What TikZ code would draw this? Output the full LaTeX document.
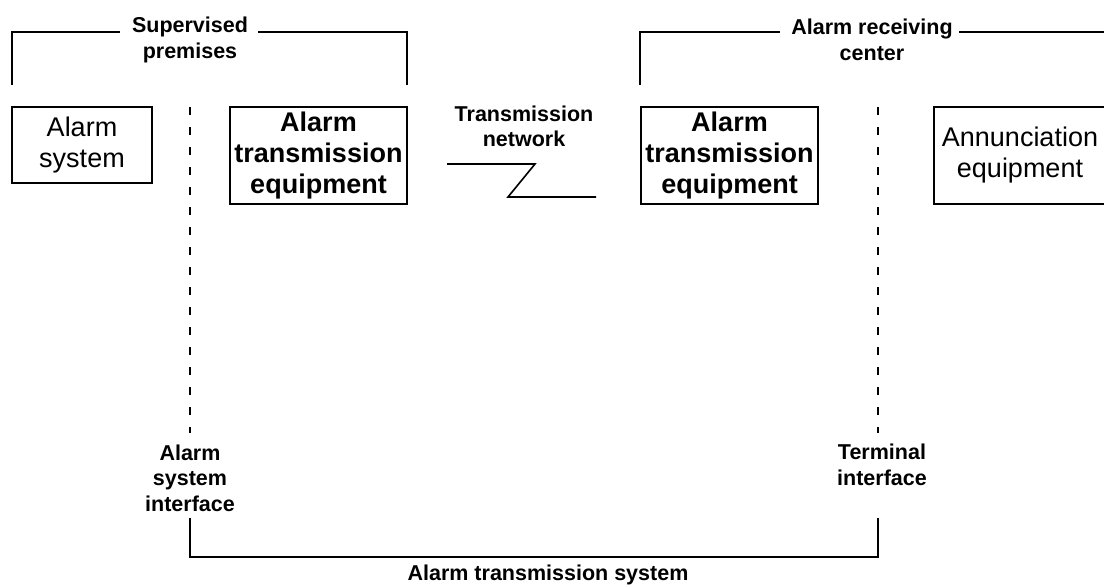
\documentclass[tikz,border=0pt]{standalone}
\usepackage{fontspec}
\setmainfont{Liberation Sans}
\usetikzlibrary{positioning}
\tikzset{
    unitbox/.style={
        rectangle,
        draw,
        line width=1.8pt,
        inner sep=0pt,
        align=center,
        font=\fontsize{27}{31}\selectfont
    },
    atebox/.style={
        unitbox,
        minimum width=177pt,
        minimum height=97pt,
        font=\fontsize{27}{31}\selectfont\bfseries
    },
    tag/.style={
        inner sep=0pt,
        align=center,
        font=\fontsize{21.5}{25.5}\selectfont\bfseries
    },
    bracket/.style={
        line width=1.6pt
    },
    interface/.style={
        line width=1.6pt,
        dash pattern=on 8pt off 12pt
    }
}

\begin{document}
\begin{tikzpicture}[x=1pt,y=-1pt]
    \useasboundingbox (0,0) rectangle (1104,586);
    \clip (0,0) rectangle (1104,586);

    % Units
    \node[unitbox, minimum width=140pt, minimum height=76pt] (alarmsys) at (82,145) {Alarm\\system};
    \node[atebox] (ateprem) at (318.5,155.5) {Alarm\\transmission\\equipment};
    \node[atebox] (atearc) at (729.5,155.5) {Alarm\\transmission\\equipment};
    \node[unitbox, minimum width=172pt, minimum height=97pt] (annunc) at (1020,155.5) {Annunciation\\equipment};

    % Supervised premises
    \node[tag] (premtag) at (190,40) {Supervised\\premises};
    \coordinate (premL) at (12,85);
    \coordinate (premLend) at (120,32);
    \coordinate (premRend) at (258,32);
    \coordinate (premR) at (407,85);
    \draw[bracket] (premL) |- (premLend);
    \draw[bracket] (premRend) -| (premR);

    % Alarm receiving center
    \node[tag] (arctag) at (872,40) {Alarm receiving\\center};
    \coordinate (arcL) at (640,85);
    \coordinate (arcLend) at (780,32);
    \coordinate (arcRend) at (959,32);
    \coordinate (arcR) at (1110,32);
    \draw[bracket] (arcL) |- (arcLend);
    \draw[bracket] (arcRend) -- (arcR);

    % Transmission network
    \node[tag] (nettag) at (524,126.5) {Transmission\\network};
    \coordinate (zA) at (447,164);
    \coordinate (zB) at (535,164);
    \coordinate (zC) at (508,197);
    \coordinate (zD) at (596,197);
    \draw[bracket] (zA) -- (zB) -- (zC) -- (zD);

    % Interfaces
    \coordinate (asitop) at (190,107);
    \coordinate (asibot) at (190,433);
    \coordinate (titop) at (878,107);
    \coordinate (tibot) at (878,433);
    \draw[interface] (asitop) -- (asibot);
    \draw[interface] (titop) -- (tibot);
    \node[tag] (asitag) at (190,478) {Alarm\\system\\interface};
    \node[tag] (titag) at (882,465) {Terminal\\interface};

    % Alarm transmission system
    \coordinate (atsL) at (190,518);
    \coordinate (atsR) at (878,518);
    \draw[bracket] (atsL) -- ++(0,39) -| (atsR);
    \node[tag] (atstag) at (548,575) {Alarm transmission system};
\end{tikzpicture}
\end{document}
